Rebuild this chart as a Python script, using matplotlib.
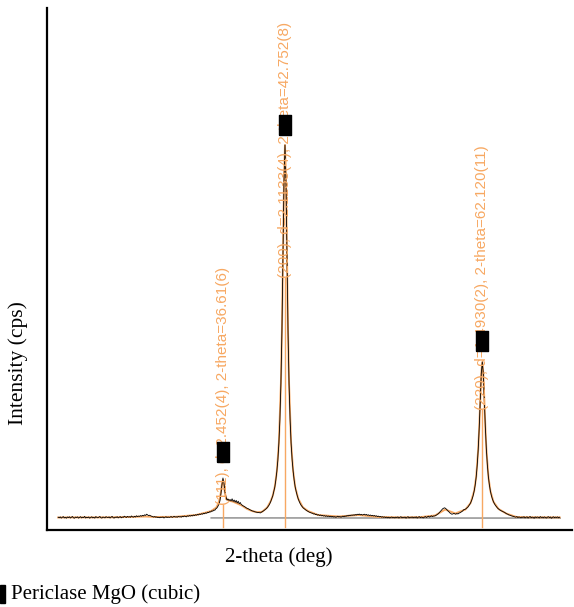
import numpy as np
import matplotlib
matplotlib.use("Agg")
import matplotlib.pyplot as plt
from matplotlib.patches import Rectangle

scan_start = 20.45
scan_step = 0.1
obs_counts = [
    128, 122, 131, 119, 126, 134, 121, 127, 118, 130,
    124, 132, 120, 127, 135, 122, 118, 129, 125, 131,
    119, 126, 133, 121, 128, 124, 136, 120, 127, 123,
    130, 118, 125, 132, 121, 127, 119, 134, 126, 122,
    128, 135, 123, 119, 130, 126, 121, 133, 127, 124,
    131, 120, 128, 136, 124, 119, 129, 125, 133, 121,
    127, 134, 122, 130, 126, 138, 131, 125, 136, 129,
    133, 127, 140, 132, 128, 137, 130, 142, 134, 139,
    136, 144, 138, 147, 141, 152, 146, 158, 150, 143,
    148, 141, 137, 133, 129, 135, 127, 131, 124, 128,
    122, 129, 125, 131, 120, 127, 133, 124, 130, 126,
    128, 135, 126, 130, 137, 129, 133, 127, 136, 131,
    134, 128, 138, 132, 140, 135, 131, 142, 137, 145,
    139, 146, 141, 150, 144, 153, 148, 156, 151, 160,
    155, 163, 158, 168, 162, 172, 167, 178, 173, 184,
    180, 192, 188, 200, 197, 212, 220, 236, 258, 290,
    360, 450, 520, 470, 380, 330, 300, 310, 295, 305,
    290, 312, 285, 300, 278, 296, 270, 288, 262, 275,
    255, 248, 240, 236, 228, 222, 215, 212, 205, 200,
    196, 190, 188, 183, 180, 178, 176, 174, 172, 171,
    180, 186, 192, 200, 208, 218, 230, 244, 262, 285,
    315, 342, 386, 430, 500, 588, 700, 872, 1105, 1470,
    1990, 2700, 3480, 3850, 3470, 2710, 1980, 1460, 1110, 870,
    705, 590, 500, 432, 385, 345, 312, 285, 263, 245,
    232, 220, 212, 204, 196, 190, 184, 178, 174, 170,
    168, 160, 163, 154, 158, 149, 153, 145, 150, 142,
    146, 139, 144, 136, 142, 135, 140, 133, 138, 131,
    136, 129, 134, 127, 133, 138, 130, 135, 128, 134,
    139, 132, 141, 136, 145, 140, 148, 143, 150, 146,
    152, 147, 155, 149, 158, 153, 160, 151, 157, 149,
    154, 158, 150, 156, 147, 152, 145, 150, 142, 147,
    140, 145, 137, 142, 134, 139, 131, 136, 128, 133,
    126, 131, 124, 129, 122, 128, 121, 126, 130, 123,
    127, 121, 129, 124, 131, 120, 126, 133, 122, 128,
    124, 130, 119, 127, 133, 121, 128, 125, 131, 122,
    129, 124, 132, 120, 127, 134, 123, 130, 126, 121,
    128, 135, 125, 131, 138, 129, 136, 142, 134, 140,
    140, 144, 150, 158, 165, 176, 188, 200, 212, 218,
    222, 215, 205, 196, 184, 172, 165, 158, 160, 166,
    162, 158, 165, 160, 168, 172, 178, 185, 194, 205,
    206, 213, 222, 231, 246, 262, 283, 310, 344, 390,
    448, 531, 647, 808, 1028, 1300, 1564, 1680, 1564, 1300,
    1028, 808, 647, 531, 448, 388, 342, 308, 282, 261,
    245, 232, 219, 210, 202, 196, 190, 186, 180, 176,
    168, 162, 158, 151, 149, 144, 141, 138, 136, 133,
    128, 135, 124, 131, 127, 122, 130, 125, 133, 121,
    127, 132, 120, 128, 135, 123, 129, 126, 118, 131,
    124, 130, 127, 121, 134, 125, 129, 122, 131, 126,
    120, 128, 133, 124, 130, 118, 127, 132, 123, 129,
    125, 131, 122, 128,
]

# calculated (fitted) profile
calc_tth = [20.45, 22, 24, 26, 28, 29.0, 30, 32, 34, 35, 35.5, 36.0, 36.2, 36.35,
            36.45, 36.55, 36.65, 36.75, 36.85, 36.95, 37.1, 37.3, 37.6, 38.0, 38.5,
            39.0, 39.5, 40.0, 40.5, 41.0, 41.35, 41.55, 41.75, 41.95, 42.15, 42.35,
            42.45, 42.55, 42.65, 42.75, 42.85, 42.95, 43.05, 43.15, 43.35, 43.55,
            43.75, 44.05, 44.5, 45.0, 46.0, 48, 50, 52, 54, 56, 57.5, 58.5, 59.5,
            60.5, 61.0, 61.35, 61.55, 61.75, 61.85, 61.95, 62.05, 62.15, 62.25,
            62.35, 62.45, 62.55, 62.75, 62.95, 63.25, 63.75, 64.5, 65.5, 67, 69.75]
calc_counts = [125, 126, 126, 127, 132, 135, 130, 132, 150, 175, 190, 225, 265, 320,
               380, 460, 500, 450, 370, 320, 300, 292, 285, 268, 245,
               212, 190, 178, 182, 225, 290, 344, 433, 585, 870, 1465,
               1990, 2700, 3480, 3850, 3470, 2710, 1980, 1460, 870, 590,
               432, 313, 228, 190, 150, 135, 150, 130, 126, 128, 145, 205, 165,
               206, 270, 390, 531, 808, 1028, 1300, 1564, 1680, 1564,
               1300, 1028, 808, 531, 388, 282, 210, 165, 130, 127, 126]

# background line
bg_tth = [35.5, 69.8]
bg_counts = [121, 119]

# reflections of Periclase MgO
hkl_tth = [36.61, 42.752, 62.12]
hkl_labels = ["(111), d=2.452(4), 2-theta=36.61(6)",
              "(200), d=2.1133(4), 2-theta=42.752(8)",
              "(220), d=1.4930(2), 2-theta=62.120(11)"]
label_base = [250, 2520, 1200]
marker_counts = [780, 4050, 1890]

orange = "#f7a862"

fig = plt.figure(figsize=(5.74, 6.07), dpi=100)
ax = fig.add_axes([47 / 574, 77 / 607, 525 / 574, 522 / 607])

tth = scan_start + scan_step * np.arange(len(obs_counts))
ax.plot(bg_tth, bg_counts, color="#9a9a9a", lw=1.2, zorder=1)
ax.plot(calc_tth, calc_counts, color=orange, lw=1.4, zorder=2)
ax.plot(tth, obs_counts, color="black", lw=0.6, zorder=3)

for x, lab, yb in zip(hkl_tth, hkl_labels, label_base):
    ax.plot([x, x], [30, yb], color=orange, lw=1.0, zorder=2)
    ax.text(x, yb, lab, rotation=90, ha="center", va="bottom", color=orange,
            fontsize=11, family="Liberation Sans", zorder=4)

bar = [(-0.29, -0.5), (0.29, -0.5), (0.29, 0.5), (-0.29, 0.5), (-0.29, -0.5)]
ax.plot(hkl_tth, marker_counts, ls="none", marker=bar, markersize=13.7,
        color="black", zorder=5)

ax.set_xlim(19.35, 70.97)
ax.set_ylim(0, 5220)
ax.set_xticks([])
ax.set_yticks([])
for s in ["top", "right"]:
    ax.spines[s].set_visible(False)
for s in ["left", "bottom"]:
    ax.spines[s].set_linewidth(1.6)

fig.text(18 / 574, 1 - 363 / 607, "Intensity (cps)", rotation=90, ha="center",
         va="center", fontsize=15.5, family="Liberation Serif")
fig.text(279 / 574, 1 - 557 / 607, "2-theta (deg)", ha="center", va="center",
         fontsize=15, family="Liberation Serif")

fig.add_artist(Rectangle((0, 1 - 603 / 607), 5 / 574, 18 / 607,
                         transform=fig.transFigure, color="black"))
fig.text(11 / 574, 1 - 594 / 607, "Periclase MgO (cubic)", ha="left", va="center",
         fontsize=15, family="Liberation Serif")

fig.savefig("out.png", dpi=100)
